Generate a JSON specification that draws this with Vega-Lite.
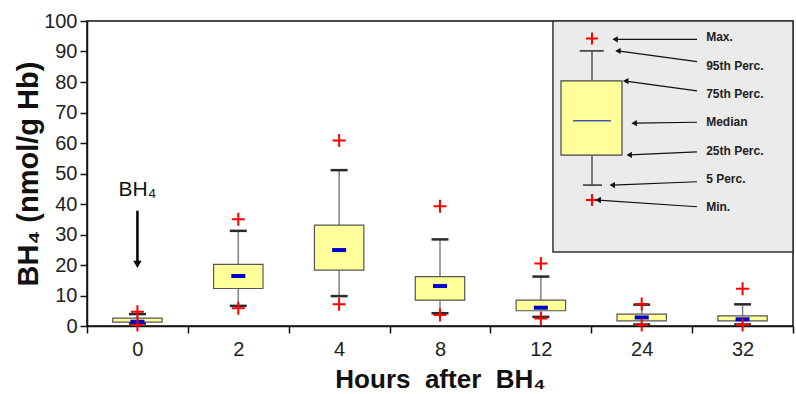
{
  "$schema": "https://vega.github.io/schema/vega-lite/v6.json",
  "width": 706,
  "height": 305,
  "autosize": {"type": "none"},
  "padding": {"left": 87, "top": 21, "right": 3, "bottom": 68},
  "background": "white",
  "config": {
    "font": "Liberation Sans",
    "view": {"stroke": "#111", "strokeWidth": 1.5},
    "axis": {"grid": false},
    "axisY": {"labelOverlap": false, "labelFontSize": 20, "labelColor": "#222", "tickCount": 12}
  },
  "datasets": {
    "stats": [
      {"hour": "0", "min": 0.3, "p5": 0.8, "q1": 1.3, "median": 1.4, "q3": 2.6, "p95": 3.9, "max": 4.7},
      {"hour": "2", "min": 5.8, "p5": 6.6, "q1": 12.3, "median": 16.4, "q3": 20.2, "p95": 31.2, "max": 35.0},
      {"hour": "4", "min": 7.1, "p5": 9.8, "q1": 18.3, "median": 24.9, "q3": 33.1, "p95": 51.1, "max": 60.8},
      {"hour": "8", "min": 3.6, "p5": 4.2, "q1": 8.5, "median": 13.1, "q3": 16.2, "p95": 28.4, "max": 39.3},
      {"hour": "12", "min": 2.5, "p5": 3.0, "q1": 5.0, "median": 6.0, "q3": 8.5, "p95": 16.2, "max": 20.5},
      {"hour": "24", "min": 0.3, "p5": 0.5, "q1": 1.7, "median": 2.8, "q3": 3.9, "p95": 7.0, "max": 7.2},
      {"hour": "32", "min": 0.3, "p5": 0.5, "q1": 1.7, "median": 2.2, "q3": 3.3, "p95": 7.1, "max": 12.2}
    ],
    "annot": [
      {"hour": "0", "note": "BH₄", "textY": 42.6, "arrowTop": 37.8, "arrowBottom": 21.0, "head": 20.2}
    ],
    "legendBox": [
      {"min": 41.3, "p5": 46.2, "q1": 56.0, "median": 67.3, "q3": 80.4, "p95": 90.2, "max": 94.3}
    ],
    "legendLabels": [
      {"label": "Max.", "labelY": 94.7, "tail": 94.0, "tip": 94.0, "tailX": 0.864, "tipX": 0.748},
      {"label": "95th Perc.", "labelY": 85.3, "tail": 86.7, "tip": 90.2, "tailX": 0.864, "tipX": 0.752},
      {"label": "75th Perc.", "labelY": 76.1, "tail": 77.1, "tip": 80.3, "tailX": 0.864, "tipX": 0.763},
      {"label": "Median", "labelY": 66.8, "tail": 66.8, "tip": 66.5, "tailX": 0.864, "tipX": 0.775},
      {"label": "25th Perc.", "labelY": 57.5, "tail": 57.1, "tip": 56.1, "tailX": 0.864, "tipX": 0.768},
      {"label": "5 Perc.", "labelY": 48.2, "tail": 47.3, "tip": 46.2, "tailX": 0.864, "tipX": 0.744},
      {"label": "Min.", "labelY": 38.9, "tail": 39.1, "tip": 41.3, "tailX": 0.864, "tipX": 0.724}
    ]
  },
  "layer": [
    {
      "encoding": {
        "x": {
          "field": "hour",
          "type": "ordinal",
          "sort": null,
          "scale": {"domain": ["0", "2", "4", "8", "12", "24", "32"], "paddingInner": 0, "paddingOuter": 0},
          "axis": {
            "title": "Hours\u00a0 after\u00a0 BH₄",
            "titleFontSize": 26,
            "titleFontWeight": "bold",
            "titleColor": "#111",
            "titlePadding": 7,
            "labelFontSize": 20,
            "labelColor": "#222",
            "labelAngle": 0,
            "labelPadding": 6,
            "tickSize": 7,
            "tickColor": "#111",
            "tickWidth": 1.5,
            "domainColor": "#111",
            "domainWidth": 1.5,
            "tickBand": "extent"
          }
        }
      },
      "layer": [
        {
          "data": {"name": "stats"},
          "mark": {"type": "rule", "color": "#808080", "strokeWidth": 1.5},
          "encoding": {
            "y": {
              "field": "p5",
              "type": "quantitative",
              "scale": {"domain": [0, 100], "nice": false},
              "axis": {
                "title": "BH₄ (nmol/g Hb)",
                "values": [0, 10, 20, 30, 40, 50, 60, 70, 80, 90, 100],
                "tickCount": 12,
                "labelOverlap": false,
                "titleFontSize": 29,
                "titleFontWeight": "bold",
                "titleColor": "#111",
                "titlePadding": 0,
                "labelFontSize": 20,
                "labelColor": "#222",
                "labelPadding": 3,
                "tickSize": 7,
                "tickColor": "#111",
                "tickWidth": 1.5,
                "domainColor": "#111",
                "domainWidth": 1.5
              }
            },
            "y2": {"field": "q1"}
          }
        },
        {
          "data": {"name": "stats"},
          "mark": {"type": "rule", "color": "#808080", "strokeWidth": 1.5},
          "encoding": {
            "y": {"field": "q3", "type": "quantitative"},
            "y2": {"field": "p95"}
          }
        },
        {
          "data": {"name": "stats"},
          "mark": {"type": "bar", "width": {"band": 0.49}, "fill": "#ffff99", "stroke": "#555", "strokeWidth": 1.2, "opacity": 1},
          "encoding": {
            "y": {"field": "q1", "type": "quantitative"},
            "y2": {"field": "q3"}
          }
        },
        {
          "data": {"name": "stats"},
          "mark": {"type": "tick", "color": "#2a2a2a", "size": 17, "thickness": 2.5, "opacity": 1},
          "encoding": {"y": {"field": "p95", "type": "quantitative"}}
        },
        {
          "data": {"name": "stats"},
          "mark": {"type": "tick", "color": "#2a2a2a", "size": 17, "thickness": 2.5, "opacity": 1},
          "encoding": {"y": {"field": "p5", "type": "quantitative"}}
        },
        {
          "data": {"name": "stats"},
          "mark": {"type": "tick", "color": "#0000cc", "size": 14, "thickness": 4, "opacity": 1},
          "encoding": {"y": {"field": "median", "type": "quantitative"}}
        },
        {
          "data": {"name": "stats"},
          "mark": {"type": "point", "shape": "M-1,0H1M0,-1V1", "filled": false, "stroke": "#ff0000", "strokeWidth": 2, "size": 169, "opacity": 1},
          "encoding": {"y": {"field": "max", "type": "quantitative"}}
        },
        {
          "data": {"name": "stats"},
          "mark": {"type": "point", "shape": "M-1,0H1M0,-1V1", "filled": false, "stroke": "#ff0000", "strokeWidth": 2, "size": 169, "opacity": 1},
          "encoding": {"y": {"field": "min", "type": "quantitative"}}
        },
        {
          "data": {"name": "annot"},
          "mark": {"type": "text", "fontSize": 21, "color": "#111", "align": "center", "baseline": "alphabetic"},
          "encoding": {
            "y": {"field": "textY", "type": "quantitative"},
            "text": {"field": "note", "type": "nominal"}
          }
        },
        {
          "data": {"name": "annot"},
          "mark": {"type": "rule", "color": "#000", "strokeWidth": 2.5},
          "encoding": {
            "y": {"field": "arrowTop", "type": "quantitative"},
            "y2": {"field": "arrowBottom"}
          }
        },
        {
          "data": {"name": "annot"},
          "mark": {"type": "point", "shape": "triangle-down", "filled": true, "color": "#000", "size": 70, "opacity": 1},
          "encoding": {
            "y": {"field": "head", "type": "quantitative"}
          }
        }
      ]
    },
    {
      "layer": [
        {
          "data": {"name": "legendBox"},
          "mark": {"type": "rect", "fill": "#ebebeb", "stroke": "#333", "strokeWidth": 1.5},
          "encoding": {
            "x": {"datum": 0.66, "type": "quantitative", "scale": {"domain": [0, 1], "nice": false, "zero": false}, "axis": null},
            "x2": {"datum": 1},
            "y": {
              "datum": 24.3,
              "type": "quantitative",
              "axis": {
                "title": "BH₄ (nmol/g Hb)",
                "values": [0, 10, 20, 30, 40, 50, 60, 70, 80, 90, 100],
                "tickCount": 12,
                "labelOverlap": false,
                "titleFontSize": 29,
                "titleFontWeight": "bold",
                "titleColor": "#111",
                "titlePadding": 0,
                "labelFontSize": 20,
                "labelColor": "#222",
                "labelPadding": 3,
                "tickSize": 7,
                "tickColor": "#111",
                "tickWidth": 1.5,
                "domainColor": "#111",
                "domainWidth": 1.5
              }
            },
            "y2": {"datum": 100}
          }
        },
        {
          "data": {"name": "legendBox"},
          "mark": {"type": "rule", "color": "#555", "strokeWidth": 1.5},
          "encoding": {
            "x": {"datum": 0.7153, "type": "quantitative"},
            "y": {"field": "p5", "type": "quantitative"},
            "y2": {"field": "q1"}
          }
        },
        {
          "data": {"name": "legendBox"},
          "mark": {"type": "rule", "color": "#555", "strokeWidth": 1.5},
          "encoding": {
            "x": {"datum": 0.7153, "type": "quantitative"},
            "y": {"field": "q3", "type": "quantitative"},
            "y2": {"field": "p95"}
          }
        },
        {
          "data": {"name": "legendBox"},
          "mark": {"type": "rect", "fill": "#ffff99", "stroke": "#444", "strokeWidth": 1.2},
          "encoding": {
            "x": {"datum": 0.6714, "type": "quantitative"},
            "x2": {"datum": 0.7578},
            "y": {"field": "q1", "type": "quantitative"},
            "y2": {"field": "q3"}
          }
        },
        {
          "data": {"name": "legendBox"},
          "mark": {"type": "rule", "color": "#4455aa", "strokeWidth": 1.5},
          "encoding": {
            "x": {"datum": 0.6884, "type": "quantitative"},
            "x2": {"datum": 0.7422},
            "y": {"field": "median", "type": "quantitative"}
          }
        },
        {
          "data": {"name": "legendBox"},
          "mark": {"type": "rule", "color": "#333", "strokeWidth": 1.5},
          "encoding": {
            "x": {"datum": 0.698, "type": "quantitative"},
            "x2": {"datum": 0.732},
            "y": {"field": "p95", "type": "quantitative"}
          }
        },
        {
          "data": {"name": "legendBox"},
          "mark": {"type": "rule", "color": "#333", "strokeWidth": 1.5},
          "encoding": {
            "x": {"datum": 0.7025, "type": "quantitative"},
            "x2": {"datum": 0.7295},
            "y": {"field": "p5", "type": "quantitative"}
          }
        },
        {
          "data": {"name": "legendBox"},
          "mark": {"type": "point", "shape": "M-1,0H1M0,-1V1", "filled": false, "stroke": "#ff0000", "strokeWidth": 2, "size": 144, "opacity": 1},
          "encoding": {
            "x": {"datum": 0.7153, "type": "quantitative"},
            "y": {"field": "max", "type": "quantitative"}
          }
        },
        {
          "data": {"name": "legendBox"},
          "mark": {"type": "point", "shape": "M-1,0H1M0,-1V1", "filled": false, "stroke": "#ff0000", "strokeWidth": 2, "size": 144, "opacity": 1},
          "encoding": {
            "x": {"datum": 0.7153, "type": "quantitative"},
            "y": {"field": "min", "type": "quantitative"}
          }
        },
        {
          "data": {"name": "legendLabels"},
          "mark": {"type": "rule", "color": "#111", "strokeWidth": 1.2},
          "encoding": {
            "x": {"field": "tailX", "type": "quantitative"},
            "x2": {"field": "tipX"},
            "y": {"field": "tail", "type": "quantitative"},
            "y2": {"field": "tip"}
          }
        },
        {
          "data": {"name": "legendLabels"},
          "mark": {"type": "point", "shape": "triangle-left", "filled": true, "color": "#111", "size": 40, "opacity": 1},
          "encoding": {
            "x": {"field": "tipX", "type": "quantitative"},
            "y": {"field": "tip", "type": "quantitative"}
          }
        },
        {
          "data": {"name": "legendLabels"},
          "mark": {"type": "text", "fontSize": 12, "fontWeight": "bold", "color": "#222", "align": "left", "baseline": "middle"},
          "encoding": {
            "x": {"datum": 0.877, "type": "quantitative"},
            "y": {"field": "labelY", "type": "quantitative"},
            "text": {"field": "label", "type": "nominal"}
          }
        }
      ]
    }
  ],
  "resolve": {"scale": {"x": "independent"}}
}
